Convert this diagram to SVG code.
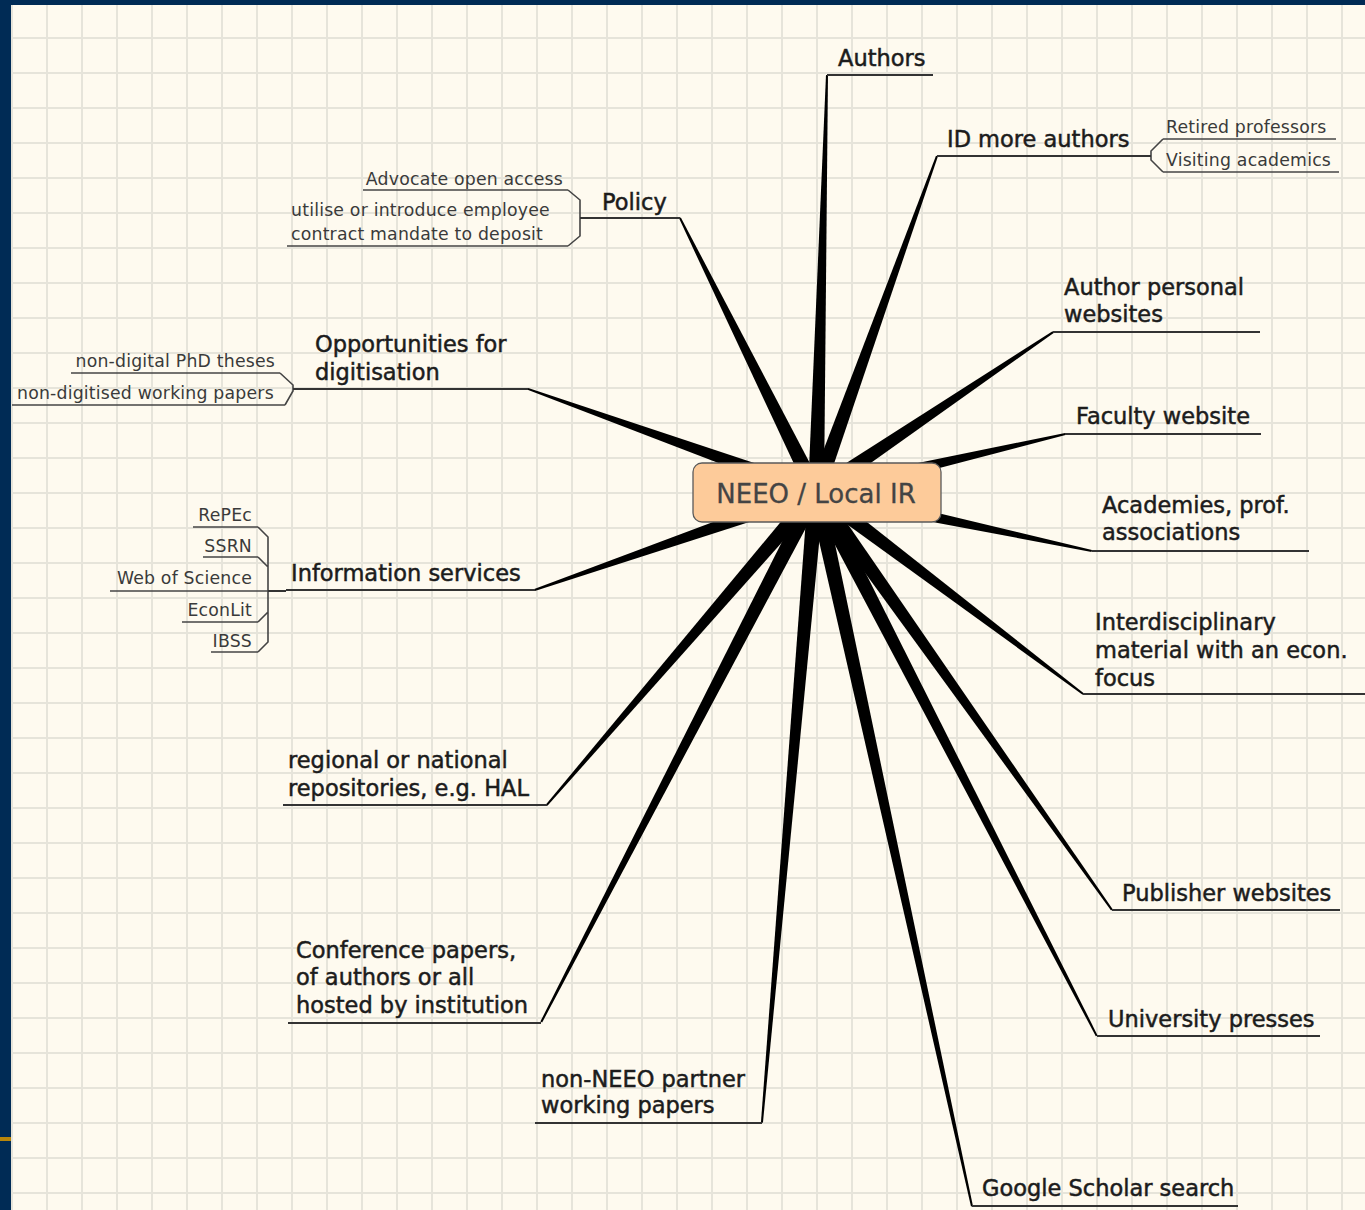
<svg xmlns="http://www.w3.org/2000/svg" width="1365" height="1210" viewBox="0 0 1365 1210">
<style>
.main{font-family:"DejaVu Sans",Verdana,sans-serif;font-size:22.5px;fill:#1c1c1c;stroke:#1c1c1c;stroke-width:0.5px}
.sub{font-family:"DejaVu Sans",Verdana,sans-serif;font-size:17.3px;letter-spacing:0.2px;fill:#3a3a3a}
.ul{stroke:#333;stroke-width:2;fill:none}
.sul{stroke:#444;stroke-width:1.6;fill:none}
.br{fill:#000}
</style>
<defs>
<pattern id="grid" patternUnits="userSpaceOnUse" x="11" y="2" width="35" height="35">
<rect width="35" height="35" fill="#FEFAEF"/>
<path d="M0,1 H35 M1,0 V35" stroke="#E6E4DA" stroke-width="2" fill="none"/>
</pattern>
</defs>
<rect x="0" y="0" width="1365" height="1210" fill="url(#grid)"/>
<rect x="0" y="0" width="1365" height="5" fill="#002B55"/>
<rect x="0" y="0" width="11" height="1210" fill="#002B55"/>
<rect x="0" y="1137" width="11" height="4" fill="#B8860B"/>

<g id="connectors">
<g transform="translate(816,492)">
<polygon class="br" points="0,-8 417,-1 417,1 0,8" transform="rotate(-88.49)"/>
<polygon class="br" points="0,-8 357,-1 357,1 0,8" transform="rotate(-70.2)"/>
<polygon class="br" points="0,-8 306,-1 306,1 0,8" transform="rotate(-116.4)"/>
<polygon class="br" points="0,-8 306,-1 306,1 0,8" transform="rotate(-160.3)"/>
<polygon class="br" points="0,-8 298,-1 298,1 0,8" transform="rotate(160.8)"/>
<polygon class="br" points="0,-8 413,-1 413,1 0,8" transform="rotate(130.7)"/>
<polygon class="br" points="0,-8 597,-1 597,1 0,8" transform="rotate(117.4)"/>
<polygon class="br" points="0,-8 633,-1 633,1 0,8" transform="rotate(94.9)"/>
<polygon class="br" points="0,-8 731,-1 731,1 0,8" transform="rotate(77.68)"/>
<polygon class="br" points="0,-8 612,-1 612,1 0,8" transform="rotate(62.7)"/>
<polygon class="br" points="0,-8 512,-1 512,1 0,8" transform="rotate(54.7)"/>
<polygon class="br" points="0,-8 335,-1 335,1 0,8" transform="rotate(37.1)"/>
<polygon class="br" points="0,-8 282,-1 282,1 0,8" transform="rotate(12.07)"/>
<polygon class="br" points="0,-8 256,-1 256,1 0,8" transform="rotate(-13.1)"/>
<polygon class="br" points="0,-8 286,-1 286,1 0,8" transform="rotate(-34.0)"/>
</g>
<path class="sul" d="M568,190 L580,200 L580,236 L568,246"/>
<path class="ul" d="M580,218 H597"/>
<path class="sul" d="M280,373 L293,385 L293,391 L285,405"/>
<path class="ul" d="M293,389 H310"/>
<path class="sul" d="M258,527 L268,537 L268,642 L258,652 M258,557 L268,567 M258,622 L268,612"/>
<path class="ul" d="M268,591 H286"/>
<path class="sul" d="M1163,139 L1151,151 L1151,160 L1163,172"/>
<path class="ul" d="M1135,156 H1151"/>
</g>

<g id="center">
<rect x="693" y="463" width="248" height="59" rx="9" fill="#FDCB9A" stroke="#5a5a5a" stroke-width="1.3"/>
<text x="816" y="503" text-anchor="middle" font-family="DejaVu Sans, Verdana, sans-serif" font-size="26" fill="#444" stroke="#444" stroke-width="0.3">NEEO / Local IR</text>
</g>

<g id="authors"><path class="ul" d="M827,75 H933"/><text class="main" x="838" y="66">Authors</text></g>

<g id="id-more-authors"><path class="ul" d="M937,156 H1135"/><text class="main" x="947" y="147">ID more authors</text></g>
<g id="retired"><path class="sul" d="M1163,139 H1336"/><text class="sub" x="1166" y="133">Retired professors</text></g>
<g id="visiting"><path class="sul" d="M1163,172 H1339"/><text class="sub" x="1166" y="166">Visiting academics</text></g>

<g id="policy"><path class="ul" d="M597,218 H680"/><text class="main" x="602" y="210">Policy</text></g>
<g id="advocate"><path class="sul" d="M363,190 H568"/><text class="sub" x="563" y="185" text-anchor="end">Advocate open access</text></g>
<g id="mandate"><path class="sul" d="M287,246 H568"/><text class="sub" x="291" y="216">utilise or introduce employee</text><text class="sub" x="291" y="240">contract mandate to deposit</text></g>

<g id="digitisation"><path class="ul" d="M310,389 H528"/><text class="main" x="315" y="352">Opportunities for</text><text class="main" x="315" y="380">digitisation</text></g>
<g id="phd"><path class="sul" d="M71,373 H280"/><text class="sub" x="275" y="367" text-anchor="end">non-digital PhD theses</text></g>
<g id="wp"><path class="sul" d="M12,405 H285"/><text class="sub" x="17" y="399">non-digitised working papers</text></g>

<g id="info-services"><path class="ul" d="M286,590 H535"/><text class="main" x="291" y="581">Information services</text></g>
<g id="repec"><path class="sul" d="M193,527 H258"/><text class="sub" x="252" y="521" text-anchor="end">RePEc</text></g>
<g id="ssrn"><path class="sul" d="M203,557 H258"/><text class="sub" x="252" y="552" text-anchor="end">SSRN</text></g>
<g id="wos"><path class="sul" d="M110,591 H268"/><text class="sub" x="252" y="584" text-anchor="end">Web of Science</text></g>
<g id="econlit"><path class="sul" d="M182,622 H258"/><text class="sub" x="252" y="616" text-anchor="end">EconLit</text></g>
<g id="ibss"><path class="sul" d="M211,652 H258"/><text class="sub" x="252" y="647" text-anchor="end">IBSS</text></g>

<g id="regional"><path class="ul" d="M283,805 H547"/><text class="main" x="288" y="768">regional or national</text><text class="main" x="288" y="796">repositories, e.g. HAL</text></g>

<g id="conference"><path class="ul" d="M288,1023 H541"/><text class="main" x="296" y="958">Conference papers,</text><text class="main" x="296" y="985">of authors or all</text><text class="main" x="296" y="1013">hosted by institution</text></g>

<g id="non-neeo"><path class="ul" d="M535,1123 H762"/><text class="main" x="541" y="1087">non-NEEO partner</text><text class="main" x="541" y="1113">working papers</text></g>

<g id="google"><path class="ul" d="M972,1206 H1238"/><text class="main" x="982" y="1196">Google Scholar search</text></g>

<g id="university-presses"><path class="ul" d="M1097,1036 H1320"/><text class="main" x="1108" y="1027">University presses</text></g>

<g id="publisher"><path class="ul" d="M1112,910 H1340"/><text class="main" x="1122" y="901">Publisher websites</text></g>

<g id="interdisciplinary"><path class="ul" d="M1083,694 H1365"/><text class="main" x="1095" y="630">Interdisciplinary</text><text class="main" x="1095" y="658">material with an econ.</text><text class="main" x="1095" y="686">focus</text></g>

<g id="academies"><path class="ul" d="M1092,551 H1309"/><text class="main" x="1102" y="513">Academies, prof.</text><text class="main" x="1102" y="540">associations</text></g>

<g id="faculty"><path class="ul" d="M1065,434 H1261"/><text class="main" x="1076" y="424">Faculty website</text></g>

<g id="author-personal"><path class="ul" d="M1053,332 H1260"/><text class="main" x="1064" y="295">Author personal</text><text class="main" x="1064" y="322">websites</text></g>
</svg>
